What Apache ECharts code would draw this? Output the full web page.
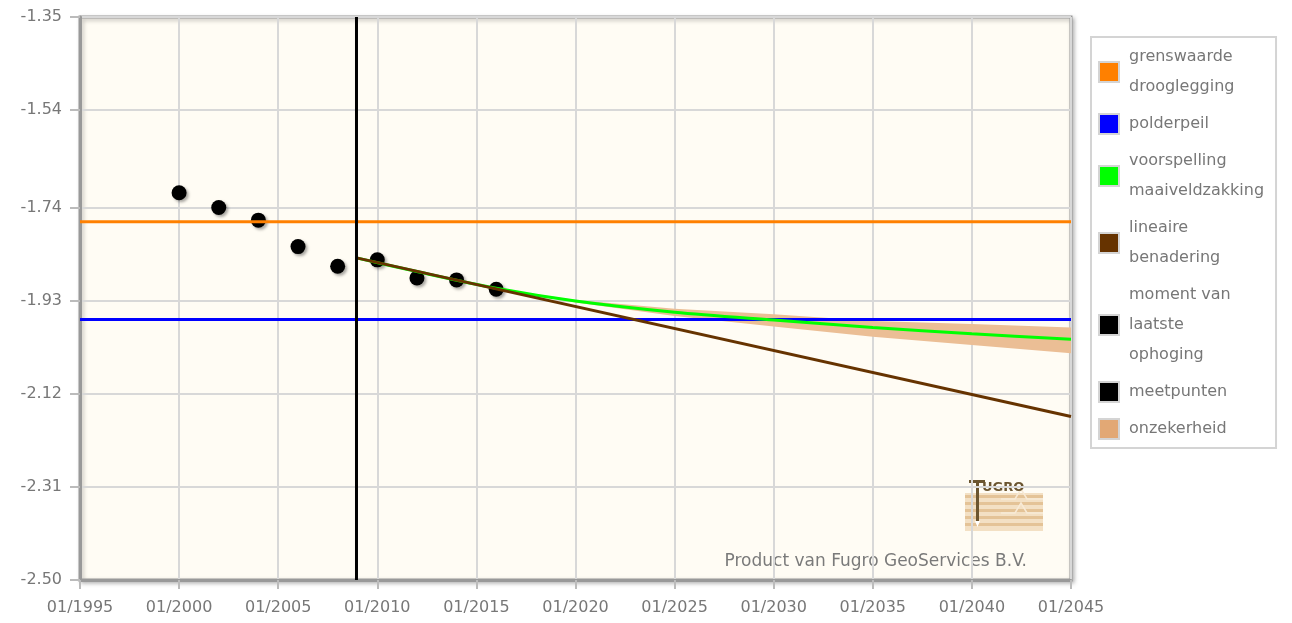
<!DOCTYPE html>
<html>
<head>
<meta charset="utf-8">
<title>maaiveldzakking</title>
<script src="https://cdn.jsdelivr.net/npm/echarts@6/dist/echarts.min.js"></script>
<style>
  html, body { margin: 0; padding: 0; background: #fff; }
  #chart { width: 1292px; height: 623px; }
</style>
</head>
<body>
<div id="chart"></div>
<script>
// waarden
const yTicks = [-2.50, -2.31, -2.12, -1.93, -1.74, -1.54, -1.35]

const meetJaren = [2000, 2002, 2004, 2006, 2008, 2010, 2012, 2014, 2016]
const meetpunten = [-1.709, -1.739, -1.765, -1.819, -1.859, -1.846, -1.883, -1.887, -1.906]

const grenswaarde = -1.768
const polderpeil = -1.968
const laatsteOphoging = 2008.95

const lineairJaren = [2008.95, 2045]
const lineair = [-1.842, -2.166]

const voorspellingJaren = [2008.95, 2012, 2016, 2020, 2025, 2030, 2035, 2040, 2045]
const voorspelling = [-1.842, -1.870, -1.904, -1.930, -1.953, -1.969, -1.984, -1.997, -2.008]

const bandJaren = [2016, 2020, 2025, 2030, 2035, 2040, 2045]
const bandBoven = [-1.904, -1.928, -1.946, -1.957, -1.971, -1.977, -1.984]
const bandOnder = [-1.904, -1.933, -1.961, -1.982, -2.003, -2.020, -2.037]

const legendNamen = {
  'grenswaarde drooglegging': 'grenswaarde\ndrooglegging',
  'voorspelling maaiveldzakking': 'voorspelling\nmaaiveldzakking',
  'lineaire benadering': 'lineaire\nbenadering',
  'moment van laatste ophoging': 'moment van\nlaatste\nophoging'
}

const tekstKleur = '#777'
const font = 'DejaVu Sans'

function paren(xs, ys) {
  return xs.map((x, i) => [x, ys[i]])
}

function lijn(name, color, data) {
  return {
    name: name, type: 'line', data: data, color: color,
    symbol: 'none', lineStyle: { width: 3, color: color }, silent: true
  }
}

let chart = echarts.init(document.getElementById('chart'))

// onzekerheidsband als polygoon tussen boven- en ondergrens
let band = {
  name: 'onzekerheid', type: 'custom', silent: true,
  itemStyle: { color: '#E2A875' },
  data: paren(bandJaren, bandBoven),
  renderItem: function (params, api) {
    if (params.dataIndex !== 0) return null
    let boven = bandJaren.map((x, i) => api.coord([x, bandBoven[i]]))
    let onder = bandJaren.map((x, i) => api.coord([x, bandOnder[i]])).reverse()
    return {
      type: 'polygon',
      shape: { points: boven.concat(onder) },
      style: { fill: '#EBBE95' }
    }
  }
}

let option = {
  animation: false,
  textStyle: { fontFamily: font },
  grid: {
    left: 80, top: 17, right: 221, bottom: 43,
    show: true, backgroundColor: '#FFFCF4',
    borderColor: '#999', borderWidth: 3,
    shadowColor: 'rgba(0,0,0,0.25)', shadowBlur: 4, shadowOffsetX: 2, shadowOffsetY: 2
  },
  xAxis: {
    type: 'value', min: 1995, max: 2045, interval: 5,
    axisLine: { show: true, lineStyle: { color: '#999', width: 3 } },
    axisTick: { show: true, length: 9, lineStyle: { color: '#bbb', width: 2 } },
    axisLabel: {
      margin: 20, color: tekstKleur, fontSize: 16, fontFamily: font,
      formatter: v => '01/' + v
    },
    splitLine: { show: true, lineStyle: { color: '#d8d8d8', width: 2 } }
  },
  yAxis: {
    type: 'value', min: -2.5, max: -1.35,
    axisLine: { show: true, lineStyle: { color: '#999', width: 3 } },
    axisTick: { show: true, length: 10, customValues: yTicks, lineStyle: { color: '#bbb', width: 2 } },
    axisLabel: {
      margin: 18, color: tekstKleur, fontSize: 16, fontFamily: font,
      customValues: yTicks,
      formatter: v => v.toFixed(2)
    },
    splitLine: { show: true, lineStyle: { color: '#d8d8d8', width: 2 } }
  },
  legend: {
    orient: 'vertical', left: 1091, top: 37,
    padding: [5, 12, 4, 7], itemGap: 7,
    backgroundColor: '#fff', borderColor: '#d4d4d4', borderWidth: 2,
    icon: 'rect', itemWidth: 20, itemHeight: 20,
    itemStyle: { borderColor: '#d4d4d4', borderWidth: 2 },
    selectedMode: false,
    textStyle: { color: tekstKleur, fontSize: 16, fontFamily: font, lineHeight: 30, padding: [0, 0, 0, 5] },
    formatter: name => legendNamen[name] || name,
    data: ['grenswaarde drooglegging', 'polderpeil', 'voorspelling maaiveldzakking',
      'lineaire benadering', 'moment van laatste ophoging', 'meetpunten', 'onzekerheid']
  },
  graphic: [
    {
      type: 'text', silent: true,
      style: {
        x: 1027, y: 562, text: 'Product van Fugro GeoServices B.V.',
        fill: '#7a7a7a', font: '17px "DejaVu Sans"', align: 'right', verticalAlign: 'middle'
      }
    },
    // logo Fugro (vereenvoudigd)
    {
      type: 'group', silent: true, x: 965, y: 477,
      children: [
        { type: 'rect', shape: { x: 0, y: 16, width: 78, height: 38 }, style: { fill: '#F3E0C4' } },
        { type: 'rect', shape: { x: 0, y: 18, width: 78, height: 3 }, style: { fill: '#E4C397' } },
        { type: 'rect', shape: { x: 0, y: 25, width: 78, height: 3 }, style: { fill: '#E4C397' } },
        { type: 'rect', shape: { x: 0, y: 32, width: 78, height: 3 }, style: { fill: '#E4C397' } },
        { type: 'rect', shape: { x: 0, y: 39, width: 78, height: 3 }, style: { fill: '#E4C397' } },
        { type: 'rect', shape: { x: 0, y: 46, width: 78, height: 3 }, style: { fill: '#E4C397' } },
        { type: 'polyline', shape: { points: [[36, 22], [50, 22], [56, 12], [62, 22], [78, 22]] }, style: { stroke: '#F8EAD6', lineWidth: 1.5, fill: null } },
        { type: 'polyline', shape: { points: [[36, 36], [50, 36], [56, 26], [62, 36], [78, 36]] }, style: { stroke: '#F8EAD6', lineWidth: 1.5, fill: null } },
        { type: 'rect', shape: { x: 11, y: 4, width: 3, height: 40 }, style: { fill: '#6B5530' } },
        { type: 'polygon', shape: { points: [[10, 44], [15, 44], [12.5, 50]] }, style: { fill: '#fff' } },
        { type: 'rect', shape: { x: 4, y: 3, width: 16, height: 3 }, style: { fill: '#6B5530' } },
        {
          type: 'text',
          style: { x: 17, y: 11, text: 'UGRO', fill: '#6B5530', font: 'bold 13px "DejaVu Sans"', verticalAlign: 'middle' }
        }
      ]
    }
  ],
  series: [
    band,
    lijn('grenswaarde drooglegging', '#FF8000', [[1995, grenswaarde], [2045, grenswaarde]]),
    lijn('polderpeil', '#0000FF', [[1995, polderpeil], [2045, polderpeil]]),
    lijn('voorspelling maaiveldzakking', '#00FF00', paren(voorspellingJaren, voorspelling)),
    lijn('lineaire benadering', '#663300', paren(lineairJaren, lineair)),
    lijn('moment van laatste ophoging', '#000000', [[laatsteOphoging, -2.5], [laatsteOphoging, -1.35]]),
    {
      name: 'meetpunten', type: 'scatter', data: paren(meetJaren, meetpunten),
      symbolSize: 15, color: '#000',
      itemStyle: { color: '#000', opacity: 1, shadowColor: 'rgba(0,0,0,0.35)', shadowBlur: 3, shadowOffsetX: 2, shadowOffsetY: 2 },
      silent: true
    }
  ]
}
option.series[3].smooth = 0.3

chart.setOption(option)
</script>
</body>
</html>
